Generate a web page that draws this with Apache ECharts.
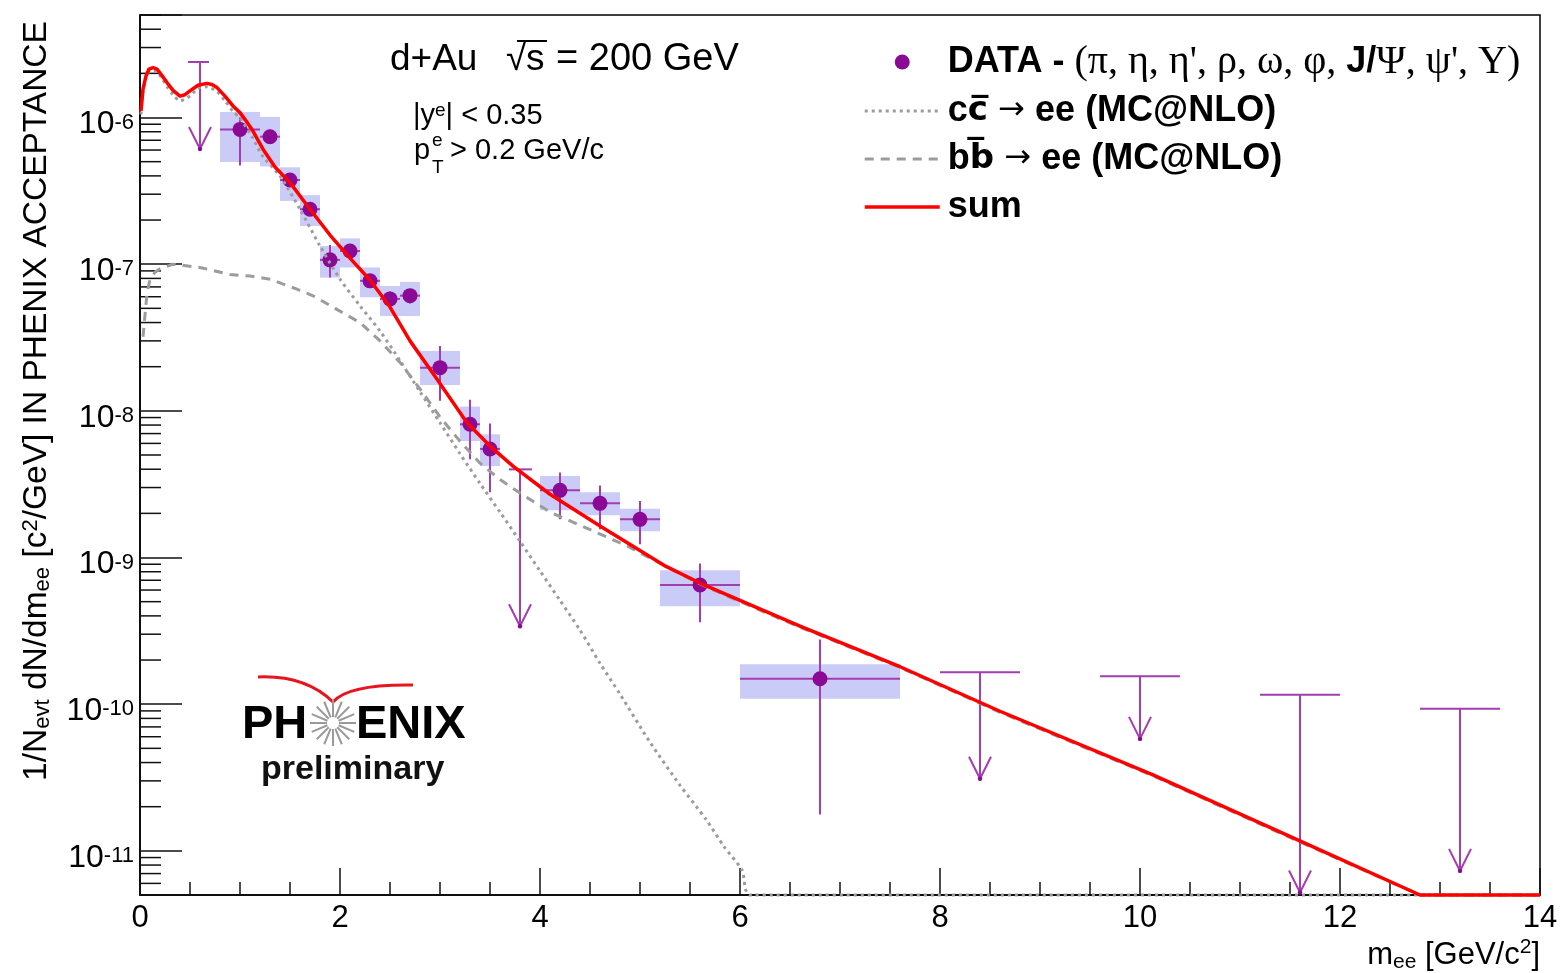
<!DOCTYPE html>
<html><head><meta charset="utf-8">
<script src="https://cdn.jsdelivr.net/npm/echarts@6/dist/echarts.min.js"></script>
<style>html,body{margin:0;padding:0;background:#fff}#c{width:1561px;height:973px}</style>
</head><body><div id="c"></div>
<script>
// ---------------- data ----------------
const dataMass  = [1.0, 1.3, 1.5, 1.7, 1.9, 2.1, 2.3, 2.5, 2.7, 3.0, 3.3, 3.5, 4.2, 4.6, 5.0, 5.6, 6.8];
const dataYield = [8.3e-7, 7.4e-7, 3.75e-7, 2.37e-7, 1.07e-7, 1.23e-7, 7.7e-8, 5.8e-8, 6.1e-8, 1.97e-8, 8.1e-9, 5.5e-9, 2.87e-9, 2.34e-9, 1.82e-9, 6.5e-10, 1.49e-10];
const binLow    = [0.8, 1.2, 1.4, 1.6, 1.8, 2.0, 2.2, 2.4, 2.6, 2.8, 3.2, 3.4, 4.0, 4.4, 4.8, 5.2, 6.0];
const binHigh   = [1.2, 1.4, 1.6, 1.8, 2.0, 2.2, 2.4, 2.6, 2.8, 3.2, 3.4, 3.6, 4.4, 4.8, 5.2, 6.0, 7.6];
const statLow   = [4.7e-7, 6.6e-7, 3.4e-7, 2.15e-7, 8.1e-8, 1.1e-7, 6.9e-8, 5.2e-8, 5.4e-8, 1.17e-8, 4.67e-9, 2.79e-9, 1.82e-9, 1.56e-9, 1.23e-9, 3.62e-10, 1.77e-11];
const statHigh  = [1.0e-6, 8.3e-7, 4.1e-7, 2.6e-7, 1.35e-7, 1.37e-7, 8.5e-8, 6.5e-8, 6.8e-8, 2.77e-8, 1.19e-8, 8.2e-9, 3.8e-9, 3.1e-9, 2.43e-9, 9.1e-10, 2.76e-10];
const sysLow    = [4.97e-7, 4.64e-7, 2.70e-7, 1.82e-7, 8.1e-8, 9.5e-8, 5.95e-8, 4.43e-8, 4.43e-8, 1.50e-8, 6.23e-9, 4.2e-9, 2.10e-9, 1.94e-9, 1.51e-9, 4.66e-10, 1.09e-10];
const sysHigh   = [1.09e-6, 1.01e-6, 4.58e-7, 2.96e-7, 1.33e-7, 1.50e-7, 9.5e-8, 7.1e-8, 7.57e-8, 2.56e-8, 1.07e-8, 6.92e-9, 3.59e-9, 2.79e-9, 2.15e-9, 8.2e-10, 1.87e-10];

const limitMass     = [0.6, 3.8, 8.4, 10.0, 11.6, 13.2];
const limitValue    = [2.39e-6, 3.99e-9, 1.65e-10, 1.55e-10, 1.16e-10, 9.3e-11];
const limitArrowEnd = [6.1e-7, 3.4e-10, 3.1e-11, 5.8e-11, 5.2e-12, 7.3e-12];
const limitLow      = [0.48, 3.69, 8.0, 9.6, 11.2, 12.8];
const limitHigh     = [0.69, 3.92, 8.8, 10.4, 12.0, 13.6];

const sumMass  = [0.01, 0.03, 0.06, 0.09, 0.13, 0.17, 0.22, 0.27, 0.33, 0.4, 0.45, 0.5, 0.58, 0.67, 0.72, 0.77, 0.85, 0.93, 1.0, 1.07, 1.12, 1.23, 1.35, 1.5, 1.7, 1.9, 2.1, 2.3, 2.5, 2.7, 2.96, 3.27, 3.5, 3.73, 4.1, 4.6, 5.26, 5.6, 6.0, 6.6, 7.6, 8.6, 10.13, 11.61, 12.8, 14.0];
const sumYield = [1.11e-6, 1.56e-6, 1.92e-6, 2.14e-6, 2.19e-6, 2.14e-6, 1.93e-6, 1.73e-6, 1.53e-6, 1.40e-6, 1.43e-6, 1.52e-6, 1.66e-6, 1.71e-6, 1.68e-6, 1.60e-6, 1.40e-6, 1.20e-6, 1.08e-6, 9.3e-7, 8.3e-7, 6.08e-7, 4.6e-7, 3.6e-7, 2.37e-7, 1.58e-7, 1.10e-7, 7.8e-8, 5.1e-8, 3.0e-8, 1.68e-8, 8.3e-9, 5.75e-9, 4.2e-9, 2.7e-9, 1.64e-9, 8.7e-10, 6.7e-10, 5.1e-10, 3.4e-10, 1.8e-10, 8.95e-11, 3.3e-11, 1.16e-11, 5.0e-12, 5.0e-12];

const charmMass  = [0.01, 0.03, 0.06, 0.09, 0.13, 0.17, 0.22, 0.27, 0.33, 0.4, 0.5, 0.58, 0.67, 0.77, 0.85, 0.93, 1.0, 1.12, 1.23, 1.4, 1.6, 1.8, 2.0, 2.2, 2.4, 2.6, 2.8, 3.0, 3.2, 3.4, 3.6, 3.8, 4.0, 4.2, 4.4, 4.6, 4.8, 5.1, 5.4, 5.66, 5.84, 6.02, 6.1, 14.0];
const charmYield = [1.05e-6, 1.5e-6, 1.85e-6, 2.05e-6, 2.1e-6, 2.05e-6, 1.85e-6, 1.62e-6, 1.43e-6, 1.30e-6, 1.40e-6, 1.58e-6, 1.62e-6, 1.50e-6, 1.30e-6, 1.10e-6, 9.9e-7, 7.4e-7, 5.4e-7, 4.0e-7, 2.37e-7, 1.33e-7, 7.9e-8, 5.2e-8, 3.5e-8, 2.2e-8, 1.35e-8, 8.3e-9, 5.1e-9, 3.2e-9, 2.04e-9, 1.29e-9, 8.1e-10, 5.1e-10, 3.2e-10, 1.9e-10, 1.17e-10, 5.5e-11, 2.8e-11, 1.64e-11, 1.07e-11, 7.4e-12, 5.0e-12, 5.0e-12];

const bottomMass  = [0.03, 0.05, 0.07, 0.1, 0.15, 0.2, 0.33, 0.6, 0.9, 1.1, 1.3, 1.57, 1.75, 1.95, 2.2, 2.4, 2.6, 2.8, 3.0, 3.2, 3.4, 3.6, 3.8, 4.1, 4.49, 4.87, 5.26, 5.6, 6.0, 6.6, 7.6, 8.6, 10.13, 11.61, 12.8, 14.0];
const bottomYield = [3.2e-8, 4.5e-8, 6.3e-8, 7.9e-8, 8.8e-8, 9.3e-8, 1.0e-7, 9.5e-8, 8.5e-8, 8.3e-8, 7.9e-8, 6.75e-8, 6.0e-8, 5.0e-8, 4.0e-8, 3.0e-8, 2.14e-8, 1.41e-8, 9.1e-9, 6.2e-9, 4.4e-9, 3.4e-9, 2.75e-9, 2.04e-9, 1.56e-9, 1.2e-9, 8.7e-10, 6.6e-10, 5.0e-10, 3.35e-10, 1.78e-10, 8.8e-11, 3.25e-11, 1.14e-11, 5.0e-12, 5.0e-12];

const xTicks = {min: 0, max: 14, interval: 2};
const yRange = {min: 5e-12, max: 5e-6};
const yMinorTickValues = [];
for (let e = -12; e <= -6; e++) for (let k = 2; k <= 9; k++) {
  const v = k * Math.pow(10, e);
  if (v > yRange.min && v < yRange.max) yMinorTickValues.push(v);
}

const dataName  = "DATA - (π, η, η', ρ, ω, φ, J/Ψ, ψ', Υ)";
const charmName = "cc̅ → ee (MC@NLO)";
const bottomName = "bb̅ → ee (MC@NLO)";
const sumName = "sum";

// ---------------- styles ----------------
const SANS = '"Liberation Sans", Arial, Helvetica, sans-serif';
const SERIF = '"Liberation Serif", "Times New Roman", serif';
const DEJA = '"DejaVu Sans", sans-serif';
const PURPLE = '#8a0a96';
const ERR = '#a43cb2';
const BOX = '#cbcbf7';
const GRAY = '#9c9c9c';
const RED = '#ff0000';
const CHARM_DASH = [3, 4];
const BOTTOM_DASH = [9, 7];

const chart = echarts.init(document.getElementById('c'), null, {renderer: 'canvas'});

function renderBox(params, api) {
  const a = api.coord([api.value(0), api.value(3)]);
  const b = api.coord([api.value(1), api.value(2)]);
  return {type: 'rect', shape: {x: a[0], y: a[1], width: b[0] - a[0], height: b[1] - a[1]},
          style: {fill: BOX}};
}
function renderErr(params, api) {
  const x = api.value(0), y = api.value(1);
  const c = api.coord([x, y]);
  const lo = api.coord([x, api.value(4)]), hi = api.coord([x, api.value(5)]);
  const l = api.coord([api.value(2), y]), r = api.coord([api.value(3), y]);
  const st = {stroke: ERR, lineWidth: 2};
  return {type: 'group', children: [
    {type: 'line', shape: {x1: c[0], y1: hi[1], x2: c[0], y2: lo[1]}, style: st},
    {type: 'line', shape: {x1: l[0], y1: c[1], x2: r[0], y2: c[1]}, style: st}
  ]};
}
function renderLimit(params, api) {
  const x = api.value(0);
  const top = api.coord([x, api.value(1)]);
  const tip = api.coord([x, api.value(2)]);
  const l = api.coord([api.value(3), api.value(1)]);
  const r = api.coord([api.value(4), api.value(1)]);
  const st = {stroke: ERR, lineWidth: 2, fill: null};
  return {type: 'group', children: [
    {type: 'line', shape: {x1: l[0], y1: top[1], x2: r[0], y2: top[1]}, style: st},
    {type: 'line', shape: {x1: top[0], y1: top[1], x2: tip[0], y2: tip[1]}, style: st},
    {type: 'polyline', shape: {points: [[tip[0] - 11, tip[1] - 22], [tip[0], tip[1]], [tip[0] + 11, tip[1] - 22]]}, style: st},
    {type: 'circle', shape: {cx: tip[0], cy: tip[1], r: 2.2}, style: {fill: PURPLE}}
  ]};
}
function renderMinorTick(params, api) {
  const p = api.coord([api.value(0), api.value(1)]);
  return {type: 'line', shape: {x1: p[0], y1: p[1], x2: p[0] + 21, y2: p[1]},
          style: {stroke: '#111', lineWidth: 1.5}};
}

const supRich = {fontSize: 19, fontFamily: SANS, lineHeight: 18, verticalAlign: 'top', color: '#000'};

const starSpokes = [];
for (let i = 0; i < 16; i++) {
  const a = i * Math.PI / 8;
  starSpokes.push({type: 'line', shape: {x1: 333 + 6 * Math.cos(a), y1: 723 + 6 * Math.sin(a), x2: 333 + 23 * Math.cos(a), y2: 723 + 23 * Math.sin(a)},
    style: {stroke: '#9a9a9a', lineWidth: 2}});
}

const legendRich = {
  b: {fontFamily: SANS, fontWeight: 'bold', fontSize: 36, lineHeight: 38, color: '#000'},
  d: {fontFamily: DEJA, fontWeight: 'bold', fontSize: 34, lineHeight: 38, color: '#000'},
  a: {fontFamily: DEJA, fontWeight: 'normal', fontSize: 32, lineHeight: 38, color: '#000'},
  g: {fontFamily: SERIF, fontWeight: 'normal', fontSize: 40, lineHeight: 38, color: '#000'}
};
const hiddenSymbol = {opacity: 0, borderWidth: 0};

const option = {
  animation: false,
  backgroundColor: '#fff',
  grid: {left: 140, right: 21, top: 15, bottom: 78, show: true, borderColor: '#000', borderWidth: 1.5,
         containLabel: false, outerBoundsMode: 'none'},
  legend: {
    orient: 'vertical', left: 858, top: 37, itemWidth: 75, itemHeight: 15, itemGap: 10,
    selectedMode: false,
    data: [
      {name: dataName, icon: 'circle', itemStyle: {color: PURPLE, opacity: 1}},
      {name: charmName, itemStyle: hiddenSymbol, lineStyle: {color: GRAY, width: 3, type: CHARM_DASH}},
      {name: bottomName, itemStyle: hiddenSymbol, lineStyle: {color: GRAY, width: 3, type: BOTTOM_DASH}},
      {name: sumName, itemStyle: hiddenSymbol, lineStyle: {color: RED, width: 3.5}}
    ],
    formatter: function (name) {
      if (name === dataName) return "{b|DATA - }{g|(π, η, η', ρ, ω, φ, }{b|J/}{g|Ψ, ψ', Υ)}";
      if (name === charmName) return "{b|c}{d|c̅}{a| → }{b|ee (MC@NLO)}";
      if (name === bottomName) return "{b|b}{d|b̅}{a| → }{b|ee (MC@NLO)}";
      return '{b|' + name + '}';
    },
    textStyle: {
      fontFamily: SANS, fontWeight: 'bold', fontSize: 36, color: '#000', lineHeight: 38, padding: [0, 0, 0, 3],
      rich: legendRich
    }
  },
  xAxis: {
    type: 'value', min: xTicks.min, max: xTicks.max, interval: xTicks.interval,
    name: '{b|m}{s|ee}{b| [GeV/c}{p|2}{b|]}',
    nameLocation: 'end', nameGap: 0, nameMoveOverlap: false,
    nameTextStyle: {align: 'right', verticalAlign: 'top', padding: [42, 0, 0, 0],
      rich: {
        b: {fontFamily: SANS, fontSize: 31, lineHeight: 36, color: '#000'},
        s: {fontFamily: SANS, fontSize: 21, lineHeight: 16, verticalAlign: 'bottom', color: '#000'},
        p: {fontFamily: SANS, fontSize: 21, lineHeight: 16, verticalAlign: 'top', color: '#000'}
      }},
    axisLine: {show: true, lineStyle: {color: '#000', width: 1.5}},
    axisTick: {show: true, inside: true, length: 27, lineStyle: {color: '#111', width: 1.5}},
    minorTick: {show: true, splitNumber: 4, length: 13, lineStyle: {color: '#111', width: 1.5}},
    axisLabel: {fontFamily: SANS, fontSize: 31, color: '#000', margin: 8},
    splitLine: {show: false}
  },
  yAxis: {
    type: 'log', logBase: 10, min: yRange.min, max: yRange.max,
    name: '1/N{s|evt} dN/dm{s|ee} [c{p|2}/GeV] IN PHENIX ACCEPTANCE',
    nameLocation: 'middle', nameGap: 86, nameRotate: 90, nameMoveOverlap: false,
    nameTextStyle: {fontFamily: SANS, fontSize: 33.5, color: '#000', padding: [0, 0, 0, 108],
      rich: {
        s: {fontFamily: SANS, fontSize: 22, lineHeight: 18, verticalAlign: 'bottom', color: '#000'},
        p: {fontFamily: SANS, fontSize: 22, lineHeight: 18, verticalAlign: 'top', color: '#000'}
      }},
    axisLine: {show: true, lineStyle: {color: '#000', width: 1.5}},
    axisTick: {show: true, inside: true, length: 42, lineStyle: {color: '#111', width: 1.5}},
    axisLabel: {
      margin: 6,
      formatter: function (v) {
        const e = Math.log10(v);
        const n = Math.round(e);
        if (Math.abs(e - n) > 0.01) return '';
        return '{n|10}{s|' + n + '}';
      },
      rich: {
        n: {fontFamily: SANS, fontSize: 32, lineHeight: 40, color: '#000', padding: [14, 0, 0, 0]},
        s: {fontFamily: SANS, fontSize: 22, lineHeight: 16, verticalAlign: 'top', color: '#000', padding: [14, 0, 0, 0]}
      }
    },
    splitLine: {show: false}
  },
  series: [
    {type: 'custom', name: 'minor ticks', renderItem: renderMinorTick, silent: true, z: 1,
     encode: {x: 0, y: 1}, data: yMinorTickValues.map(v => [0, v])},
    {type: 'custom', name: 'sys', renderItem: renderBox, silent: true, z: 2,
     encode: {x: [0, 1], y: [2, 3]},
     data: dataMass.map((m, i) => [binLow[i], binHigh[i], sysLow[i], sysHigh[i]])},
    {type: 'custom', name: 'stat', renderItem: renderErr, silent: true, z: 3,
     encode: {x: [0, 2, 3], y: [1, 4, 5]},
     data: dataMass.map((m, i) => [m, dataYield[i], binLow[i], binHigh[i], statLow[i], statHigh[i]])},
    {type: 'custom', name: 'limits', renderItem: renderLimit, silent: true, z: 3,
     encode: {x: [0, 3, 4], y: [1, 2]},
     data: limitMass.map((m, i) => [m, limitValue[i], limitArrowEnd[i], limitLow[i], limitHigh[i]])},
    {type: 'scatter', name: dataName, symbol: 'circle', symbolSize: 15, z: 4,
     itemStyle: {color: PURPLE, opacity: 1}, data: dataMass.map((m, i) => [m, dataYield[i]])},
    {type: 'line', name: charmName, symbol: 'none', smooth: 0.25, clip: false, z: 5,
     lineStyle: {color: GRAY, width: 3, type: CHARM_DASH}, itemStyle: {color: GRAY},
     data: charmMass.map((m, i) => [m, charmYield[i]])},
    {type: 'line', name: bottomName, symbol: 'none', smooth: false, clip: false, z: 5,
     lineStyle: {color: GRAY, width: 3, type: BOTTOM_DASH, join: 'round'}, itemStyle: {color: GRAY},
     data: bottomMass.map((m, i) => [m, bottomYield[i]])},
    {type: 'line', name: sumName, symbol: 'none', smooth: false, clip: false, z: 6,
     lineStyle: {color: RED, width: 3.5, join: 'round'}, itemStyle: {color: RED},
     data: sumMass.map((m, i) => [m, sumYield[i]])}
  ],
  graphic: [
    {type: 'text', x: 390, y: 60, style: {text: 'd+Au', fontFamily: SANS, fontSize: 37, fill: '#000', verticalAlign: 'middle'}},
    {type: 'text', x: 506, y: 60, style: {text: '√', fontFamily: SANS, fontSize: 37, fill: '#000', verticalAlign: 'middle'}},
    {type: 'line', shape: {x1: 517, y1: 41, x2: 547, y2: 41}, style: {stroke: '#000', lineWidth: 2}},
    {type: 'text', x: 526, y: 60, style: {text: 's', fontFamily: SANS, fontSize: 37, fill: '#000', verticalAlign: 'middle'}},
    {type: 'text', x: 556, y: 60, style: {text: '= 200 GeV', fontFamily: SANS, fontSize: 38, fill: '#000', verticalAlign: 'middle'}},
    {type: 'text', x: 413, y: 116, style: {text: '|y{p|e}| < 0.35', fontFamily: SANS, fontSize: 29, fill: '#000', verticalAlign: 'middle',
      rich: {p: supRich}}},
    {type: 'text', x: 414, y: 151, style: {text: 'p', fontFamily: SANS, fontSize: 29, fill: '#000', verticalAlign: 'middle'}},
    {type: 'text', x: 432, y: 141, style: {text: 'e', fontFamily: SANS, fontSize: 19, fill: '#000', verticalAlign: 'middle'}},
    {type: 'text', x: 432, y: 168, style: {text: 'T', fontFamily: SANS, fontSize: 19, fill: '#000', verticalAlign: 'middle'}},
    {type: 'text', x: 450, y: 151, style: {text: '> 0.2 GeV/c', fontFamily: SANS, fontSize: 29, fill: '#000', verticalAlign: 'middle'}},
    // PHENIX preliminary logo
    {type: 'bezierCurve', shape: {x1: 258, y1: 677, cpx1: 305, cpy1: 675, x2: 333, y2: 702}, style: {stroke: '#e8141e', lineWidth: 3, fill: null}},
    {type: 'bezierCurve', shape: {x1: 333, y1: 702, cpx1: 348, cpy1: 684, x2: 413, y2: 685}, style: {stroke: '#e8141e', lineWidth: 3, fill: null}},
    {type: 'text', x: 242, y: 725, style: {text: 'PH', fontFamily: SANS, fontWeight: 'bold', fontSize: 47, fill: '#000', verticalAlign: 'middle'}},
    {type: 'group', children: starSpokes},
    {type: 'text', x: 356, y: 725, style: {text: 'ENIX', fontFamily: SANS, fontWeight: 'bold', fontSize: 47, fill: '#000', verticalAlign: 'middle'}},
    {type: 'text', x: 261, y: 770, style: {text: 'preliminary', fontFamily: SANS, fontWeight: 'bold', fontSize: 34, fill: '#111', verticalAlign: 'middle'}}
  ]
};
chart.setOption(option);
</script>
</body></html>
